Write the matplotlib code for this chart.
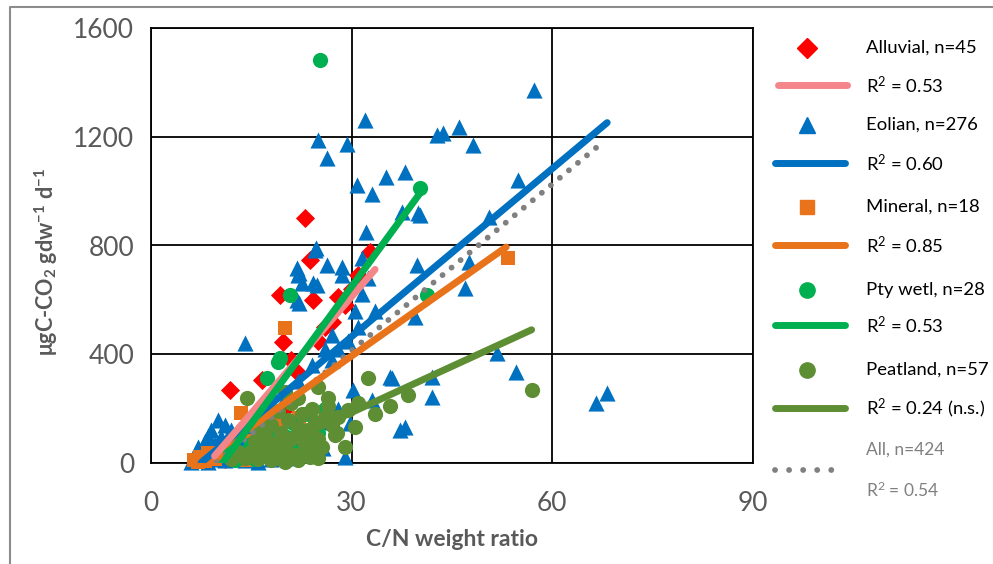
import matplotlib
matplotlib.use("Agg")
import matplotlib.pyplot as plt

plt.rcParams['font.family'] = ['Lato', 'DejaVu Sans']
plt.rcParams['mathtext.fontset'] = 'custom'
plt.rcParams['mathtext.rm'] = 'Lato'
plt.rcParams['mathtext.it'] = 'Lato:italic'
plt.rcParams['mathtext.bf'] = 'Lato:bold'

# --- data (C/N ratio, ugC-CO2 gdw-1 d-1) ---
alluvial_x = [23.0, 23.7, 32.7, 19.3, 24.2, 19.7, 11.8, 16.6, 25, 27, 29, 30, 31, 28, 26,
              13, 10, 15, 18, 9, 12, 16, 20, 22, 14, 17, 21, 11]
alluvial_y = [901, 747, 776, 618, 600, 445, 268, 305, 450, 520, 580, 640, 690, 610, 500,
              30, 20, 60, 100, 10, 45, 150, 200, 330, 90, 200, 380, 15]

eolian_x = [14.0, 32.0, 24.9, 29.3, 26.3, 30.8, 33.0, 35.2, 37.9, 37.5, 39.9, 32.2, 24.6,
            26.3, 21.9, 28.5, 39.7, 57.3, 42.7, 43.6, 46.1, 48.1, 40.2, 54.8, 50.6, 47.6,
            46.9, 39.4, 51.7, 54.6, 35.7, 42.0, 42.0, 37.9, 36.0, 68.1, 66.6, 30.2, 29.7,
            24.2, 25.7, 29.0, 37.2, 22.0, 24.5, 28.5, 24.8, 22.5, 22.2, 31.5, 22.2, 24.2,
            21.8, 30.5, 31.5, 32.5, 33.5, 31, 29.5, 28, 27,
            6, 6.5, 7, 7, 7.5, 7.5, 8, 8, 8.5, 8.5, 9, 9, 9.5, 9.5, 10, 10, 10.5, 11, 11,
            11.5, 12, 12.5, 13, 13.5, 14, 14.5, 15, 15.5, 16, 16.5, 17, 18, 19, 20, 21, 22,
            23, 26, 28, 33, 18, 20, 22, 24, 26, 27]
eolian_y = [441, 1262, 1188, 1173, 1122, 1022, 989, 1052, 1070, 923, 920, 850, 791,
            728, 717, 721, 728, 1372, 1206, 1214, 1236, 1170, 912, 1041, 905, 739,
            644, 537, 405, 335, 316, 316, 243, 132, 313, 257, 221, 268, 147,
            66, 55, 22, 121, 691, 783, 691, 655, 662, 588, 754, 699, 662,
            600, 560, 620, 680, 560, 500, 450, 420, 380,
            5, 15, 30, 60, 10, 45, 25, 80, 5, 100, 40, 120, 15, 70, 160, 30, 95, 140, 10,
            60, 120, 20, 90, 50, 10, 130, 30, 75, 5, 110, 40, 15, 60, 20, 90, 30,
            110, 150, 200, 230, 170, 240, 300, 360, 420, 470]

mineral_x = [20.0, 13.5, 22.2, 53.3, 6.5, 7.3, 8.5, 9.5, 7, 8, 10.5, 12, 15, 17, 19, 11, 16, 14]
mineral_y = [496, 184, 166, 754, 10, 22, 37, 15, 5, 8, 30, 60, 80, 120, 140, 25, 40, 12]

ptywetl_x = [25.2, 40.2, 41.2, 20.8, 19.3, 17.3, 19.0, 20.8, 20.3, 11.8, 13, 14, 15, 16,
             17, 18, 19, 21, 22, 23, 24, 25, 12.5, 15.5, 18.5, 26, 20, 22]
ptywetl_y = [1482, 1011, 618, 618, 386, 313, 371, 85, 96, 48, 20, 40, 70, 30,
             90, 120, 60, 150, 40, 180, 70, 110, 10, 15, 25, 200, 10, 130]

peat_x = [56.9, 38.4, 32.4, 26.4, 30.5, 27.5, 23.4, 29.4, 14.3, 27.8, 23.7,
          14, 15, 15.5, 16, 16.5, 17, 17.5, 18, 18.5, 19, 19.5, 20, 20.5, 21, 21.5, 22,
          22.5, 23, 23.5, 24, 24.5, 25, 25.5, 26, 26.5, 27, 21, 19, 17, 16, 18, 20, 22,
          24, 25, 13, 12, 28, 29, 31, 20, 22, 25, 35.7, 33.5]
peat_y = [268, 250, 313, 239, 132, 103, 29, 195, 239, 110, 22,
          20, 40, 80, 15, 60, 100, 30, 140, 70, 20, 110, 50, 160, 90, 30, 130,
          180, 70, 120, 200, 150, 90, 60, 170, 210, 140, 220, 190, 170, 130, 10, 5, 10,
          40, 20, 40, 15, 170, 60, 220, 260, 240, 280, 210, 180]

# trend lines: (x start, x end, slope, intercept)
fit_names = ['All', 'Peatland', 'Mineral', 'Eolian', 'Alluvial', 'Pty wetl']
fit_x0 = [8.5, 13.5, 7.3, 7.5, 9.5, 10.7]
fit_x1 = [66.7, 56.9, 53.1, 68.2, 33.5, 40.6]
fit_slope = [20.4, 11.3, 17.34, 20.6, 28.6, 33.6]
fit_icpt = [-198, -153, -126.6, -153, -246, -359]

legend_labels = ['Alluvial, n=45', 'R$^2$ = 0.53', 'Eolian, n=276', 'R$^2$ = 0.60',
                 'Mineral, n=18', 'R$^2$ = 0.85', 'Pty wetl, n=28', 'R$^2$ = 0.53',
                 'Peatland, n=57', 'R$^2$ = 0.24 (n.s.)', 'All, n=424', 'R$^2$ = 0.54']

c_red = '#FF0000'
c_pink = '#F4868A'
c_blue = '#0070C0'
c_orange = '#E8731A'
c_green = '#00B050'
c_olive = '#5E8E34'
c_gray = '#808080'
c_text = '#595959'

fig = plt.figure(figsize=(9.93, 5.64), dpi=100)
ax = fig.add_axes([151/993, 101/564, 602/993, 435/564])

ax.scatter(alluvial_x, alluvial_y, marker='D', s=95, color=c_red, zorder=3, clip_on=False, lw=0)
ax.scatter(eolian_x, eolian_y, marker='^', s=135, color=c_blue, zorder=3, clip_on=False, lw=0)
ax.scatter(mineral_x, mineral_y, marker='s', s=100, color=c_orange, zorder=3, clip_on=False, lw=0)
ax.scatter(ptywetl_x, ptywetl_y, marker='o', s=120, color=c_green, zorder=3, clip_on=False, lw=0)
ax.scatter(peat_x, peat_y, marker='o', s=120, color=c_olive, zorder=3, clip_on=False, lw=0)

fit_colors = [c_gray, c_olive, c_orange, c_blue, c_pink, c_green]
for name, x0, x1, m, b, col in zip(fit_names, fit_x0, fit_x1, fit_slope, fit_icpt, fit_colors):
    xs = [x0, x1]
    ys = [m * x0 + b, m * x1 + b]
    if name == 'All':
        ax.plot(xs, ys, color=col, lw=4.2, linestyle=(0, (0.01, 2.0)),
                dash_capstyle='round', zorder=4)
    else:
        ax.plot(xs, ys, color=col, lw=5, solid_capstyle='round', zorder=4)

ax.set_xlim(0, 90)
ax.set_ylim(0, 1600)
ax.set_xticks([0, 30, 60, 90])
ax.set_yticks([0, 400, 800, 1200, 1600])
ax.grid(True, color='black', lw=1.3)
ax.set_axisbelow(True)
for sp in ax.spines.values():
    sp.set_color('black')
    sp.set_linewidth(1.3)
ax.tick_params(length=0, labelsize=19, labelcolor=c_text)
ax.tick_params(axis='x', pad=20)
ax.tick_params(axis='y', pad=12)

fig.text(452/993, 1 - 540/564, 'C/N weight ratio', ha='center', va='center',
         fontsize=16.5, fontweight='bold', color=c_text)
fig.text(46/993, 1 - 262/564, r'μgC-CO$_\mathbf{2}$ gdw$^\mathbf{-1}$ d$^\mathbf{-1}$',
         ha='center', va='center', rotation=90, fontsize=15.5, fontweight='bold', color=c_text)

# legend drawn in pixel coordinates
lax = fig.add_axes([0, 0, 1, 1], facecolor='none')
lax.set_xlim(0, 993)
lax.set_ylim(564, 0)
lax.axis('off')
lax.plot([10, 10, 995], [570, 7, 7], color='#8c8c8c', lw=1.5)

row_y = [48, 85, 125, 163, 207, 245, 290, 325, 370, 408, 450, 490]
lax.plot([807], [row_y[0]], marker='D', ms=10, color=c_red, lw=0)
lax.plot([778, 847], [row_y[1], row_y[1]], color=c_pink, lw=5, solid_capstyle='round')
lax.plot([807], [row_y[2]], marker='^', ms=11, color=c_blue, lw=0)
lax.plot([775, 845], [row_y[3], row_y[3]], color=c_blue, lw=5, solid_capstyle='round')
lax.plot([807], [row_y[4]], marker='s', ms=10, color=c_orange, lw=0)
lax.plot([775, 845], [row_y[5], row_y[5]], color=c_orange, lw=5, solid_capstyle='round')
lax.plot([807], [row_y[6]], marker='o', ms=11, color=c_green, lw=0)
lax.plot([775, 845], [row_y[7], row_y[7]], color=c_green, lw=5, solid_capstyle='round')
lax.plot([807], [row_y[8]], marker='o', ms=11, color=c_olive, lw=0)
lax.plot([775, 845], [row_y[9], row_y[9]], color=c_olive, lw=5, solid_capstyle='round')
lax.plot([775, 842], [row_y[11] - 20, row_y[11] - 20], color=c_gray, lw=4.2,
         linestyle=(0, (0.01, 2.4)), dash_capstyle='round')

for i, (lab, yy) in enumerate(zip(legend_labels, row_y)):
    col = c_gray if i >= 10 else 'black'
    size = 12.5 if i >= 10 else 13.3
    lax.text(866, yy, lab, ha='left', va='center', fontsize=size, color=col)

fig.savefig('out.png', dpi=100)
